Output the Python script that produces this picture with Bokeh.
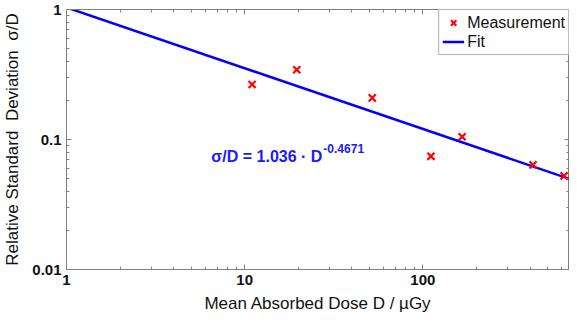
from bokeh.plotting import figure
from bokeh.models import (Range1d, LogAxis, FixedTicker, Label, Legend, LegendItem,
                          CustomJSTickFormatter)
from bokeh.embed import file_html
from bokeh.resources import INLINE

# ---- data ----
dose = [11.0, 19.6, 52.0, 111.0, 166.0, 415.0, 620.0]          # Mean absorbed dose / uGy
rel_sd = [0.265, 0.344, 0.209, 0.0742, 0.105, 0.0638, 0.0525]  # sigma / D
fit_coef = 1.036
fit_exp = -0.4671
fit_dose = [1.0, 665.0]
fit_rel = [fit_coef * d ** fit_exp for d in fit_dose]
x_limits = [1.0, 665.0]
y_limits = [0.01, 1.0]
x_ticks = [1, 10, 100]
y_ticks = [0.01, 0.1, 1]

FONT = "Liberation Sans"
AX = "#808080"


def minors(decades):
    return [m * d for d in decades for m in range(2, 10)]


x_minor = minors([1, 10, 100])
y_minor = minors([0.01, 0.1])


def make_ticker(ticks, minor):
    return FixedTicker(ticks=ticks, minor_ticks=minor)


p = figure(width=569, height=318, x_axis_type="log", y_axis_type="log",
           x_range=Range1d(*x_limits), y_range=Range1d(*y_limits),
           output_backend="svg", toolbar_location=None,
           min_border_left=62, min_border_right=0, min_border_top=9, min_border_bottom=49)
p.grid.visible = False
p.outline_line_color = AX
p.background_fill_color = "white"
p.border_fill_color = "white"

plain = CustomJSTickFormatter(code="return String(tick);")

p.xaxis[0].ticker = make_ticker(x_ticks, x_minor)
p.yaxis[0].ticker = make_ticker(y_ticks, y_minor)

for ax in (p.xaxis[0], p.yaxis[0]):
    ax.formatter = plain
    ax.axis_line_color = AX
    ax.major_tick_line_color = AX
    ax.minor_tick_line_color = AX
    ax.major_tick_in = 5
    ax.major_tick_out = 0
    ax.minor_tick_in = 3
    ax.minor_tick_out = 0
    ax.major_label_text_font = FONT
    ax.major_label_text_font_style = "bold"
    ax.major_label_text_font_size = "15px"
    ax.major_label_text_color = "#111111"
    ax.axis_label_text_font = FONT
    ax.axis_label_text_font_style = "normal"
    ax.axis_label_text_font_size = "17px"
    ax.axis_label_text_color = "#111111"

p.xaxis[0].axis_label = "Mean Absorbed Dose D / \u00b5Gy"
p.xaxis[0].major_label_standoff = 5
p.xaxis[0].axis_label_standoff = 6
p.yaxis[0].axis_label = "Relative Standard\u00a0 Deviation\u00a0 \u03c3/D"
p.yaxis[0].major_label_standoff = 5
p.yaxis[0].axis_label_standoff = 7

for loc, tk, mn in (("above", x_ticks, x_minor), ("right", y_ticks, y_minor)):
    a = LogAxis(ticker=make_ticker(tk, mn),
                formatter=CustomJSTickFormatter(code="return ''"))
    a.axis_line_color = AX
    a.major_tick_line_color = AX
    a.minor_tick_line_color = AX
    a.major_tick_in = 5
    a.major_tick_out = 0
    a.minor_tick_in = 3
    a.minor_tick_out = 0
    a.major_label_standoff = 0
    a.major_label_text_font_size = "1px"
    p.add_layout(a, loc)

fit_r = p.line(fit_dose, fit_rel, line_color="#0000ff", line_width=2.5)
meas_r = p.scatter(dose, rel_sd, marker="x", size=10, line_color="#ff0000", line_width=2.2)

legend = Legend(items=[LegendItem(label="Measurement", renderers=[meas_r]),
                       LegendItem(label="Fit", renderers=[fit_r])],
                location="top_right", margin=0, padding=3, spacing=0,
                glyph_width=22, glyph_height=19, label_height=19, label_standoff=3,
                label_text_font=FONT, label_text_font_size="16px",
                label_text_color="#111111",
                border_line_color="#666666", border_line_width=1,
                background_fill_color="white", background_fill_alpha=1.0)
p.add_layout(legend)

eq_main = Label(x=6.5, y=0.074, text="\u03c3/D = 1.036 \u00b7 D", text_font=FONT,
                text_font_style="bold", text_font_size="16px", text_color="#1a1aff",
                text_baseline="middle", text_align="left")
eq_sup = Label(x=6.5, y=0.074, x_offset=112, y_offset=8, text="-0.4671", text_font=FONT,
               text_font_style="bold", text_font_size="12px", text_color="#1a1aff",
               text_baseline="middle", text_align="left")
p.add_layout(eq_main)
p.add_layout(eq_sup)

open("out.html", "w").write(file_html(p, INLINE))
